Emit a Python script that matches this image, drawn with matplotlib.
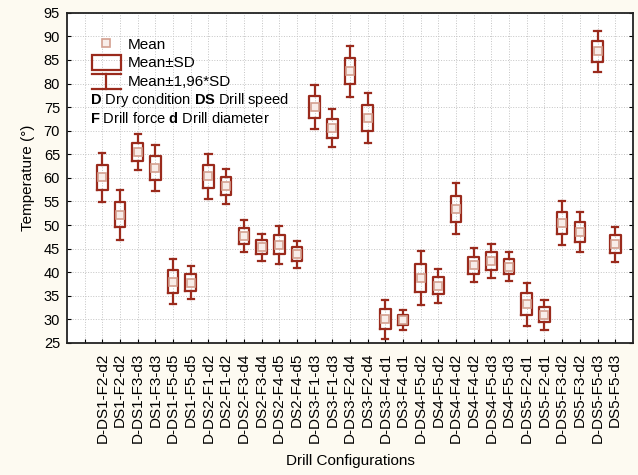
import numpy as np
import matplotlib
matplotlib.use("Agg")
import matplotlib.pyplot as plt
from matplotlib.patches import Rectangle
from matplotlib.lines import Line2D
from matplotlib.legend_handler import HandlerBase

plt.rcParams['font.family'] = ['Liberation Sans', 'DejaVu Sans']
plt.rcParams['mathtext.fontset'] = 'custom'
plt.rcParams['mathtext.rm'] = 'Liberation Sans'
plt.rcParams['mathtext.bf'] = 'Liberation Sans:bold'

# dados (média e desvio padrão)
rotulos = ['D-DS1-F2-d2', 'DS1-F2-d2', 'D-DS1-F3-d3', 'DS1-F3-d3',
           'D-DS1-F5-d5', 'DS1-F5-d5', 'D-DS2-F1-d2', 'DS2-F1-d2',
           'D-DS2-F3-d4', 'DS2-F3-d4', 'D-DS2-F4-d5', 'DS2-F4-d5',
           'D-DS3-F1-d3', 'DS3-F1-d3', 'D-DS3-F2-d4', 'DS3-F2-d4',
           'D-DS3-F4-d1', 'DS3-F4-d1', 'D-DS4-F5-d2', 'DS4-F5-d2',
           'D-DS4-F4-d2', 'DS4-F4-d2', 'D-DS4-F5-d3', 'DS4-F5-d3',
           'D-DS5-F2-d1', 'DS5-F2-d1', 'D-DS5-F3-d2', 'DS5-F3-d2',
           'D-DS5-F5-d3', 'DS5-F5-d3']
medias = [60.1, 52.2, 65.5, 62.1, 38.0, 37.8, 60.3, 58.2, 47.7, 45.3,
          45.8, 43.8, 75.0, 70.5, 82.6, 72.7, 30.0, 29.8, 38.8, 37.1,
          53.5, 41.5, 42.4, 41.2, 33.2, 31.0, 50.4, 48.5, 86.8, 45.9]
desvios = [2.65, 2.7, 1.95, 2.5, 2.4, 1.78, 2.47, 1.9, 1.72, 1.45,
           2.04, 1.45, 2.35, 2.05, 2.77, 2.67, 2.12, 1.07, 2.9, 1.8,
           2.75, 1.8, 1.83, 1.55, 2.35, 1.63, 2.35, 2.15, 2.2, 1.92]

cor = '#9a2a1c'
cor_media = '#d3a090'

# estatísticas para o bxp: caixa = média±DP, bigodes = média±1,96*DP
stats = []
for m, s in zip(medias, desvios):
    stats.append({'med': m, 'mean': m, 'q1': m - s, 'q3': m + s,
                  'whislo': m - 1.96 * s, 'whishi': m + 1.96 * s, 'fliers': []})

fig = plt.figure(figsize=(6.38, 4.75), dpi=100)
fig.patch.set_facecolor('#fdfaf1')
ax = fig.add_axes([0.105, 0.278, 0.887, 0.695])
ax.set_facecolor('white')

pos = np.arange(1, len(medias) + 1)
ax.bxp(stats, positions=pos, widths=0.6, showmeans=True, showfliers=False,
       boxprops=dict(color=cor, linewidth=1.6),
       whiskerprops=dict(color=cor, linewidth=1.6),
       capprops=dict(color=cor, linewidth=1.6),
       medianprops=dict(linewidth=0),
       meanprops=dict(marker='s', markersize=6, markerfacecolor='#f8ede9',
                      markeredgecolor=cor_media, markeredgewidth=1.2),
       capwidths=0.35, manage_ticks=False)

ax.set_xlim(-1, 31)
ax.set_ylim(25, 95)
ax.set_yticks(np.arange(25, 96, 5))
ax.set_xticks(np.arange(0, 31))
ax.set_xticklabels([''] + rotulos, rotation=90, fontsize=11)
ax.tick_params(axis='y', labelsize=10.5, direction='in', length=3, right=True, pad=5)
ax.tick_params(axis='x', direction='in', length=3, pad=7)
ax.grid(True, linestyle=':', color='#c4c4c4', linewidth=0.7)
ax.set_axisbelow(True)
for sp in ax.spines.values():
    sp.set_linewidth(1.3)
    sp.set_color('#222222')

ax.set_ylabel('Temperature (°)', fontsize=11, labelpad=6)
ax.set_xlabel('Drill Configurations', fontsize=11, labelpad=8)


# legenda com símbolos personalizados
class HandlerCaixa(HandlerBase):
    def create_artists(self, legend, orig_handle, xd, yd, w, h, fs, trans):
        r = Rectangle((-xd, -yd - 0.2 * h), w, 1.4 * h, fill=False,
                      edgecolor=cor, linewidth=1.6, transform=trans)
        return [r]


class HandlerBigode(HandlerBase):
    def create_artists(self, legend, orig_handle, xd, yd, w, h, fs, trans):
        x0, x1 = -xd, -xd + w
        y0, y1 = -yd - 0.25 * h, -yd + 1.2 * h
        xm = (x0 + x1) / 2
        l1 = Line2D([x0, x1], [y1, y1], color=cor, lw=1.6, transform=trans)
        l2 = Line2D([xm, xm], [y0, y1], color=cor, lw=1.6, transform=trans)
        l3 = Line2D([x0, x1], [y0, y0], color=cor, lw=1.6, transform=trans)
        return [l1, l2, l3]


h_media = Line2D([], [], marker='s', linestyle='none', markersize=6,
                 markerfacecolor='#f8ede9', markeredgecolor=cor_media, markeredgewidth=1.2)
h_caixa = Rectangle((0, 0), 1, 1)
h_bigode = Line2D([], [])
ax.legend([h_media, h_caixa, h_bigode], ['Mean', 'Mean±SD', 'Mean±1,96*SD'],
          handler_map={Rectangle: HandlerCaixa(), h_bigode: HandlerBigode()},
          loc='upper left', bbox_to_anchor=(0.044, 0.925), frameon=False,
          fontsize=11, handlelength=1.9, handletextpad=0.45, labelspacing=0.32,
          borderaxespad=0, borderpad=0)

ax.text(0.041, 0.736, r'$\mathbf{D}$ Dry condition $\mathbf{DS}$ Drill speed',
        transform=ax.transAxes, fontsize=10.5, va='center', ha='left')
ax.text(0.041, 0.679, r'$\mathbf{F}$ Drill force $\mathbf{d}$ Drill diameter',
        transform=ax.transAxes, fontsize=10.5, va='center', ha='left')

fig.savefig('out.png', dpi=100, facecolor=fig.get_facecolor())
